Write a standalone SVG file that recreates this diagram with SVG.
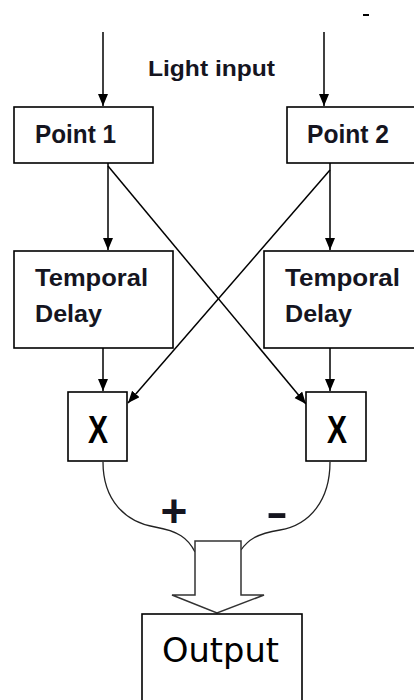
<svg xmlns="http://www.w3.org/2000/svg" width="414" height="700" viewBox="0 0 414 700">
<style>
  .box { fill: #fff; stroke: #000; stroke-width: 1.6; }
  .lbl { font-family: "Liberation Sans", Arial, sans-serif; font-weight: bold; fill: #15151f; }
  .x { font-family: "Liberation Sans", Arial, sans-serif; font-weight: bold; font-size: 38px; fill: #000; text-anchor: middle; }
  .out { font-family: "DejaVu Sans", sans-serif; font-size: 34px; fill: #000; }
  .ln { stroke: #000; stroke-width: 1.5; fill: none; }
  .cv { stroke: #222; stroke-width: 1.3; fill: none; }
</style>
<defs>
  <marker id="ah" markerUnits="userSpaceOnUse" markerWidth="13" markerHeight="11" refX="12" refY="5" orient="auto">
    <path d="M0,0 L12,5 L0,10 z" fill="#000"/>
  </marker>
</defs>
<rect width="414" height="700" fill="#fff"/>
<line x1="363" y1="15" x2="369" y2="15" stroke="#000" stroke-width="2"/>
<text class="lbl" x="148" y="76" font-size="22" textLength="127" lengthAdjust="spacingAndGlyphs">Light input</text>
<g id="connectors">
  <line class="ln" x1="103" y1="32" x2="103" y2="106" marker-end="url(#ah)"/>
  <line class="ln" x1="324" y1="32" x2="324" y2="106" marker-end="url(#ah)"/>
  <line class="ln" x1="108" y1="163" x2="108" y2="250" marker-end="url(#ah)"/>
  <line class="ln" x1="330" y1="163" x2="330" y2="250" marker-end="url(#ah)"/>
  <line class="ln" x1="108" y1="166" x2="306" y2="404" marker-end="url(#ah)"/>
  <line class="ln" x1="330" y1="170" x2="128" y2="403" marker-end="url(#ah)"/>
  <line class="ln" x1="103" y1="348" x2="103" y2="391" marker-end="url(#ah)"/>
  <line class="ln" x1="330" y1="348" x2="330" y2="391" marker-end="url(#ah)"/>
  <path class="cv" d="M103,462 C103,500 125,522 155,527 C178,531 188,538 195,552"/>
  <path class="cv" d="M330,462 C330,500 310,525 280,530 C256,534 248,540 241,550"/>
  <polygon points="195,541 241,541 241,595 264,595 217,613 172,595 195,595" fill="#fff" stroke="#333" stroke-width="1.5"/>
</g>
<g id="point1">
  <rect class="box" x="14" y="107" width="139" height="56"/>
  <text class="lbl" x="35" y="143" font-size="25" textLength="81" lengthAdjust="spacingAndGlyphs">Point 1</text>
</g>
<g id="point2">
  <rect class="box" x="287" y="107" width="140" height="56"/>
  <text class="lbl" x="307" y="143" font-size="25" textLength="82" lengthAdjust="spacingAndGlyphs">Point 2</text>
</g>
<g id="delay1">
  <rect class="box" x="14" y="251" width="159" height="97"/>
  <text class="lbl" x="35" y="286" font-size="23" textLength="113" lengthAdjust="spacingAndGlyphs">Temporal</text>
  <text class="lbl" x="35" y="322" font-size="23" textLength="67" lengthAdjust="spacingAndGlyphs">Delay</text>
</g>
<g id="delay2">
  <rect class="box" x="264" y="251" width="160" height="97"/>
  <text class="lbl" x="285" y="286" font-size="23" textLength="115" lengthAdjust="spacingAndGlyphs">Temporal</text>
  <text class="lbl" x="285" y="322" font-size="23" textLength="67" lengthAdjust="spacingAndGlyphs">Delay</text>
</g>
<g id="mult1">
  <rect class="box" x="68" y="392" width="59" height="69"/>
  <text class="x" x="98" y="443" textLength="20" lengthAdjust="spacingAndGlyphs">X</text>
</g>
<g id="mult2">
  <rect class="box" x="306" y="392" width="60" height="69"/>
  <text class="x" x="337" y="443" textLength="20" lengthAdjust="spacingAndGlyphs">X</text>
</g>
<text class="lbl" x="174" y="527" font-size="46" text-anchor="middle" fill="#000">+</text>
<text class="lbl" x="266" y="526" font-size="40" textLength="22" lengthAdjust="spacingAndGlyphs" fill="#000">-</text>
<g id="output">
  <rect class="box" x="142" y="614" width="160" height="92"/>
  <text class="out" x="162" y="662" textLength="117" lengthAdjust="spacingAndGlyphs">Output</text>
</g>
</svg>
